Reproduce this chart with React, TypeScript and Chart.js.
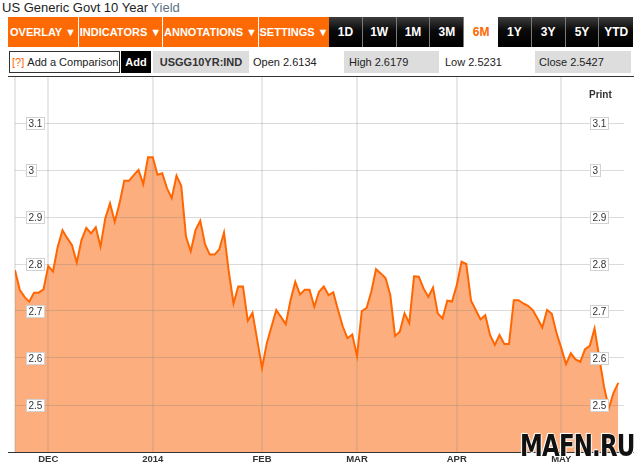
import React, { useEffect, useRef } from 'react';
import { Chart, registerables } from 'chart.js';

Chart.register(...registerables);

// ---- data ----
const yields = [
  2.787, 2.745, 2.730, 2.720, 2.739, 2.739, 2.746, 2.796, 2.784, 2.837,
  2.872, 2.855, 2.840, 2.803, 2.851, 2.877, 2.865, 2.878, 2.837, 2.897,
  2.929, 2.890, 2.929, 2.977, 2.977, 2.989, 3.000, 2.970, 3.027, 3.027,
  2.990, 2.993, 2.961, 2.940, 2.988, 2.966, 2.858, 2.827, 2.872, 2.892,
  2.842, 2.820, 2.820, 2.831, 2.867, 2.784, 2.716, 2.752, 2.752, 2.679,
  2.696, 2.638, 2.579, 2.631, 2.667, 2.702, 2.687, 2.672, 2.723, 2.762,
  2.735, 2.745, 2.745, 2.709, 2.741, 2.752, 2.734, 2.740, 2.702, 2.667,
  2.642, 2.650, 2.604, 2.700, 2.706, 2.741, 2.789, 2.780, 2.770, 2.734,
  2.647, 2.656, 2.695, 2.674, 2.774, 2.773, 2.748, 2.730, 2.750, 2.695,
  2.684, 2.722, 2.720, 2.755, 2.805, 2.800, 2.722, 2.702, 2.682, 2.691,
  2.649, 2.628, 2.649, 2.630, 2.630, 2.723, 2.723, 2.716, 2.711, 2.702,
  2.684, 2.665, 2.702, 2.694, 2.653, 2.621, 2.587, 2.610, 2.597, 2.592,
  2.619, 2.626, 2.663, 2.600, 2.539, 2.493, 2.526, 2.547,
];
const monthTickIdx = [0, 7, 29, 52, 72, 93, 115];
const monthTickLabels = ['', 'DEC', '2014', 'FEB', 'MAR', 'APR', 'MAY'];
const yTickValues = [2.5, 2.6, 2.7, 2.8, 2.9, 3.0, 3.1];
const yTickLabels = ['2.5', '2.6', '2.7', '2.8', '2.9', '3', '3.1'];
const yMin = 2.4;
const yMax = 3.2;

const menuButtons = ['OVERLAY', 'INDICATORS', 'ANNOTATIONS', 'SETTINGS'];
const menuWidths = [70, 83, 95, 70];
const periodButtons = ['1D', '1W', '1M', '3M', '6M', '1Y', '3Y', '5Y', 'YTD'];
const activePeriod = '6M';
const tickerName = 'USGG10YR:IND';
const openValue = '2.6134';
const highValue = '2.6179';
const lowValue = '2.5231';
const closeValue = '2.5427';

const FONT = '"Liberation Sans", Arial, Helvetica, sans-serif';

const boxedYLabels = {
  id: 'boxedYLabels',
  afterDatasetsDraw(chart: any) {
    const { ctx, chartArea, scales } = chart;
    const ys = scales.y;
    ctx.save();
    ctx.font = '10px ' + FONT;
    ctx.textBaseline = 'middle';
    ctx.textAlign = 'left';
    const xs = [chartArea.left + 11, chartArea.right - 34];
    yTickValues.forEach((v, i) => {
      const py = Math.round(ys.getPixelForValue(v));
      const t = yTickLabels[i];
      const w = Math.round(ctx.measureText(t).width + 4);
      const h = 12;
      xs.forEach((x0) => {
        const x = Math.round(x0);
        ctx.fillStyle = '#ffffff';
        ctx.fillRect(x, py - h / 2, w, h);
        ctx.strokeStyle = '#d2d2d2';
        ctx.lineWidth = 1;
        ctx.strokeRect(x + 0.5, py - h / 2 + 0.5, w, h);
        ctx.fillStyle = '#333333';
        ctx.fillText(t, x + 2.5, py + 1);
      });
    });
    ctx.restore();
  },
};

function ChartCanvas() {
  const ref = useRef<HTMLCanvasElement | null>(null);
  useEffect(() => {
    if (!ref.current) return;
    const chart = new Chart(ref.current, {
      type: 'line',
      data: {
        datasets: [
          {
            data: yields.map((v, i) => ({ x: i, y: v })),
            borderColor: '#ff6600',
            backgroundColor: '#fdae7e',
            borderWidth: 2,
            pointRadius: 0,
            tension: 0,
            fill: 'start',
          },
        ],
      },
      options: {
        animation: false,
        responsive: false,
        events: [],
        layout: { padding: { left: 7, right: 10, top: 0, bottom: 0 } },
        plugins: {
          legend: { display: false },
          tooltip: { enabled: false },
          filler: { drawTime: 'beforeDraw' },
        },
        scales: {
          x: {
            type: 'linear',
            min: 0,
            max: 128.2,
            afterBuildTicks: (s: any) => {
              s.ticks = monthTickIdx.map((v) => ({ value: v }));
            },
            afterFit: (s: any) => {
              s.height = 19;
            },
            grid: { color: 'rgba(140,140,140,0.2)', lineWidth: 2, drawTicks: false },
            border: { display: false },
            ticks: {
              autoSkip: false,
              maxRotation: 0,
              padding: 2,
              color: '#333333',
              font: { family: FONT, size: 9.5, weight: 'bold' },
              callback: (v: any) => {
                const i = monthTickIdx.indexOf(Number(v));
                return i >= 0 ? monthTickLabels[i] : '';
              },
            },
          },
          y: {
            min: yMin,
            max: yMax,
            afterBuildTicks: (s: any) => {
              s.ticks = yTickValues.map((v) => ({ value: v }));
            },
            afterFit: (s: any) => {
              s.width = 0;
            },
            ticks: { display: false },
            grid: { color: 'rgba(110,110,110,0.25)', lineWidth: 1, drawTicks: false },
            border: { display: false },
          },
        },
      } as any,
      plugins: [boxedYLabels],
    });
    return () => chart.destroy();
  }, []);
  return <canvas ref={ref} width={626} height={395} style={{ display: 'block' }} />;
}

const abs = (l: number, t: number, w?: number, h?: number): React.CSSProperties => ({
  position: 'absolute',
  left: l,
  top: t,
  width: w,
  height: h,
});

export default function App() {
  let mx = 8;
  const menu = menuButtons.map((b, i) => {
    const el = (
      <div
        key={b}
        style={{
          ...abs(mx, 17, menuWidths[i], 30),
          background: '#fd6a04',
          color: '#fff',
          font: 'bold 11px ' + FONT,
          display: 'flex',
          alignItems: 'center',
          justifyContent: 'center',
          whiteSpace: 'nowrap',
        }}
      >
        {b} ▼
      </div>
    );
    mx += menuWidths[i] + 1;
    return el;
  });
  const periods = periodButtons.map((p, i) => {
    const active = p === activePeriod;
    const left = 329 + i * 33.8;
    return (
      <div
        key={p}
        style={{
          ...abs(left, 17, 33.8, 30),
          background: active ? '#ffffff' : 'linear-gradient(#3c3c3c 0%, #0a0a0a 45%, #000 100%)',
          color: active ? '#ff6600' : '#ffffff',
          borderRight: active || i === periodButtons.length - 1 ? 'none' : '1px solid #7a7a7a',
          boxSizing: 'border-box',
          font: 'bold 12px ' + FONT,
          display: 'flex',
          alignItems: 'center',
          justifyContent: 'center',
        }}
      >
        {p}
      </div>
    );
  });
  const row2Text: React.CSSProperties = {
    font: '11px ' + FONT,
    color: '#222',
    display: 'flex',
    alignItems: 'center',
    whiteSpace: 'nowrap',
    boxSizing: 'border-box',
  };
  return (
    <div
      style={{
        position: 'fixed',
        left: 0,
        top: 0,
        width: 634,
        height: 471,
        overflow: 'hidden',
        background: '#fff',
        fontFamily: FONT,
      }}
    >
      <div style={{ ...abs(2, 0), font: '13px ' + FONT, lineHeight: '15px', color: '#222', whiteSpace: 'nowrap' }}>
        US Generic Govt 10 Year <span style={{ color: '#5d7185' }}>Yield</span>
      </div>
      {menu}
      {periods}
      <div style={{ ...abs(9, 51, 111, 22), ...row2Text, border: '1px solid #333', paddingLeft: 2 }}>
        <span style={{ color: '#ff6600' }}>[?]</span>&nbsp;Add a Comparison
      </div>
      <div style={{ ...abs(121, 51, 30, 22), ...row2Text, background: '#000', color: '#fff', fontWeight: 'bold', justifyContent: 'center' }}>
        Add
      </div>
      <div style={{ ...abs(153, 51, 96, 22), ...row2Text, background: '#dddddd', color: '#333', fontWeight: 'bold', justifyContent: 'center' }}>
        {tickerName}
      </div>
      <div style={{ ...abs(253, 51, 88, 22), ...row2Text }}>Open {openValue}</div>
      <div style={{ ...abs(344, 51, 95, 22), ...row2Text, background: '#dddddd', paddingLeft: 5 }}>High {highValue}</div>
      <div style={{ ...abs(445, 51, 88, 22), ...row2Text }}>Low {lowValue}</div>
      <div style={{ ...abs(535, 51, 96, 22), ...row2Text, background: '#dddddd', paddingLeft: 4 }}>Close {closeValue}</div>

      <div style={abs(8, 76, 626, 395)}>
        <ChartCanvas />
      </div>
      <div style={{ ...abs(8, 76, 626, 1), background: '#333' }} />
      <div style={{ ...abs(8, 452, 626, 1), background: '#333' }} />
      <div style={{ ...abs(589, 89), font: 'bold 10px ' + FONT, lineHeight: '12px', color: '#333' }}>Print</div>
      <div
        style={{
          ...abs(520, 428),
          font: 'bold 30px "DejaVu Sans Condensed", "Liberation Sans Narrow", sans-serif',
          color: '#111',
          letterSpacing: -1,
          textShadow: '0 0 2px #fff, 0 0 2px #fff, 1px 1px 0 #fff, -1px -1px 0 #fff',
          whiteSpace: 'nowrap',
          transform: 'scaleX(0.85)',
          transformOrigin: 'left top',
        }}
      >
        MAFN.RU
      </div>
    </div>
  );
}
